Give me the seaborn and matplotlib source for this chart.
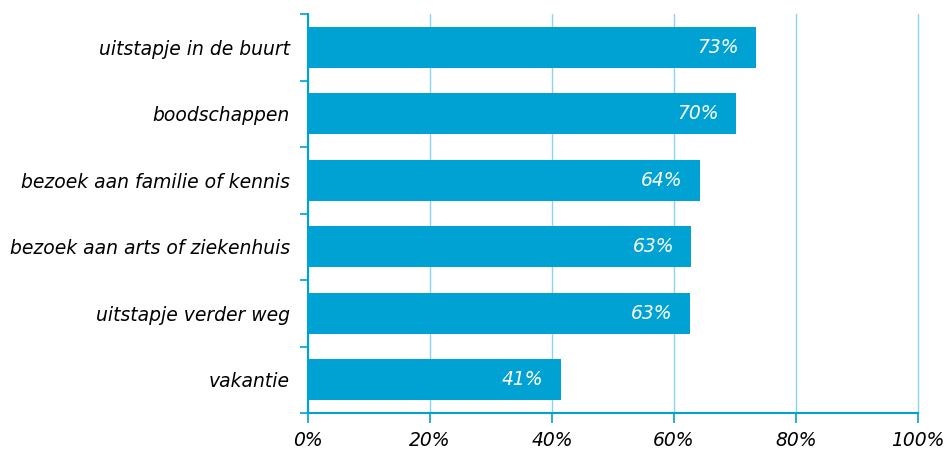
import numpy as np
import pandas as pd
import matplotlib
matplotlib.use('Agg')
import matplotlib.pyplot as plt
import seaborn as sns
from matplotlib.ticker import FixedLocator, PercentFormatter

# data
activiteiten = ['uitstapje in de buurt', 'boodschappen', 'bezoek aan familie of kennis',
                'bezoek aan arts of ziekenhuis', 'uitstapje verder weg', 'vakantie']
percentages = [73.4, 70.1, 64.2, 62.8, 62.6, 41.4]
labels = ['73%', '70%', '64%', '63%', '63%', '41%']

blauw = '#00a1d3'
grid_blauw = '#8dd3ec'

sns.set_style('white')
plt.rcParams['font.family'] = ['DejaVu Sans']
plt.rcParams['text.color'] = 'black'

df = pd.DataFrame({'activiteit': activiteiten, 'pct': percentages})

fig = plt.figure(figsize=(9.49, 4.5), dpi=100)
ax = fig.add_axes([308 / 949, 37 / 450, 610 / 949, 399 / 450])

sns.barplot(data=df, x='pct', y='activiteit', color=blauw, saturation=1,
            width=0.62, linewidth=0, ax=ax, zorder=3)

ax.set_xlim(0, 100)
ax.set_ylim(len(activiteiten) - 0.5, -0.5)
ax.set_xticks(np.arange(0, 101, 20))
ax.xaxis.set_major_formatter(PercentFormatter(decimals=0))
ax.grid(axis='x', color=grid_blauw, linewidth=1, zorder=0)
ax.grid(axis='y', visible=False)
for gl in ax.get_xgridlines():
    gl.set_clip_on(False)
ax.set_xlabel('')
ax.set_ylabel('')

for s in ['top', 'right']:
    ax.spines[s].set_visible(False)
for s in ['left', 'bottom']:
    ax.spines[s].set_color(blauw)
    ax.spines[s].set_linewidth(1.5)

# tick marks between categories on the y axis
ax.yaxis.set_minor_locator(FixedLocator(np.arange(-0.5, len(activiteiten), 1)))
ax.tick_params(axis='y', which='major', left=False, length=0, pad=13,
               labelcolor='black')
ax.tick_params(axis='y', which='minor', left=True, length=6, color=blauw, width=1.2)
ax.tick_params(axis='x', bottom=True, length=7, color=blauw, width=1.2, pad=6,
               labelcolor='black')

for lbl in ax.get_yticklabels():
    lbl.set_fontstyle('italic')
    lbl.set_fontsize(13.5)
for lbl in ax.get_xticklabels():
    lbl.set_fontstyle('italic')
    lbl.set_fontsize(13.5)

for i, (v, t) in enumerate(zip(percentages, labels)):
    ax.text(v - 2.8, i, t, ha='right', va='center', color='white',
            fontsize=13.5, fontstyle='italic', zorder=4)

fig.savefig('out.png', dpi=100)
